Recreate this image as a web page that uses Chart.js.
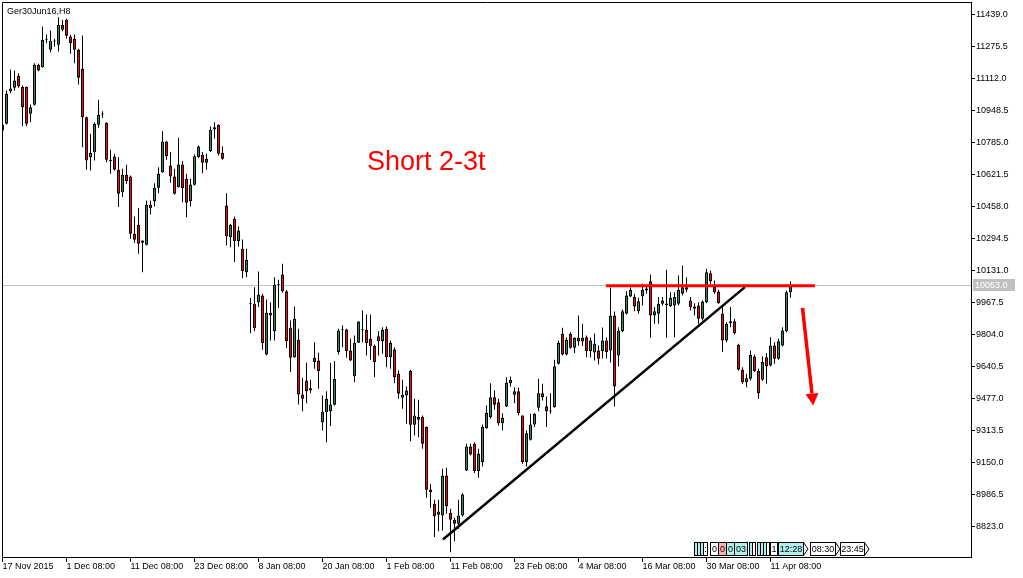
<!DOCTYPE html>
<html><head><meta charset="utf-8">
<script src="https://cdn.jsdelivr.net/npm/chart.js@4.4.1/dist/chart.umd.min.js"></script>
<style>html,body{margin:0;padding:0;background:#fff;overflow:hidden}canvas{display:block}</style>
</head><body>
<canvas id="c" width="1023" height="578"></canvas>
<script>
const symbolTitle = 'Ger30Jun16,H8';
const noteText = 'Short 2-3t';

const opens = [10846,10881,11047,11065,11126,11068,11068,10932,10978,11182,11170,11308,11259,11301,11284,11386,11412,11327,11315,11259,
11162,10914,10710,10736,10876,10928,10886,10697,10714,10646,10531,10620,10611,10319,10365,10273,10262,10467,10485,10554,
10633,10790,10668,10611,10557,10673,10600,10485,10569,10710,10722,10681,10741,10851,10876,10732,10463,10301,10395,10281,
10242,10122,9959,9961,9969,10003,9702,9901,9821,10056,10111,10025,9838,9688,9777,9498,9569,9518,9685,9671,
9356,9407,9412,9445,9714,9826,9830,9722,9591,9762,9826,9828,9782,9746,9795,9770,9833,9688,9728,9603,
9481,9492,9617,9343,9368,9382,9331,9012,8939,8883,8879,9084,8893,8857,8837,8879,9109,9232,9246,9106,
9152,9325,9382,9484,9458,9351,9436,9555,9496,9514,9390,9152,9266,9344,9430,9504,9438,9410,9433,9654,
9808,9702,9808,9736,9787,9768,9790,9719,9712,9722,9719,9773,9722,9901,9697,9821,9910,9998,9995,9923,
9998,10029,10076,9901,9910,9961,9962,9949,9952,9961,10012,10046,9978,9947,9952,9884,9969,10117,10049,10024,
9910,9773,9862,9872,9752,9624,9560,9578,9692,9617,9573,9688,9646,9748,9680,9748,9821,10020];
const highs = [10897,11051,11158,11153,11139,11076,11071,10979,11190,11187,11378,11337,11357,11315,11425,11412,11417,11335,11337,11264,
11332,10916,10830,10887,11003,10945,10889,10748,10727,10710,10651,10671,10616,10407,10451,10285,10489,10489,10577,10659,
10843,10792,10736,10651,10809,10690,10625,10600,10724,10770,10736,10727,10867,10889,10878,10765,10526,10370,10407,10356,
10290,10242,9990,10046,10126,10012,9983,9969,10097,10084,10165,10030,9876,9947,9833,9583,9660,9573,9765,9711,
9492,9514,9660,9668,9833,9850,9833,9782,9799,9872,9927,9906,9906,9753,9821,9841,9845,9773,9739,9620,
9573,9538,9624,9476,9471,9390,9334,9041,8960,8960,9118,9123,8914,8868,8960,8993,9246,9246,9254,9220,
9344,9441,9555,9518,9476,9402,9586,9590,9535,9532,9392,9314,9399,9402,9578,9552,9487,9504,9675,9773,
9838,9790,9816,9790,9901,9859,9799,9789,9809,9748,9840,9789,10044,9922,9841,9932,10025,10046,10012,9992,
10063,10054,10111,9944,9995,9995,10135,10020,10020,10106,10157,10097,9995,9964,9969,9978,10140,10131,10080,10033,
9952,9867,9944,9884,9757,9637,9603,9722,9702,9629,9692,9709,9790,9765,9782,9841,10029,10076];
const lows = [10831,10877,11037,11051,11065,10868,10868,10889,10974,11149,11167,11292,11246,11276,11250,11354,11315,11238,11190,11081,
10761,10646,10642,10693,10860,10911,10684,10625,10642,10455,10506,10574,10293,10271,10216,10122,10259,10417,10458,10526,
10630,10697,10579,10519,10555,10480,10403,10458,10565,10707,10628,10646,10736,10804,10719,10697,10259,10250,10174,10254,
10092,10097,9811,9821,9944,9726,9697,9773,9773,9939,10017,9734,9612,9685,9447,9412,9453,9504,9629,9527,
9314,9254,9336,9441,9702,9739,9685,9668,9560,9760,9765,9697,9675,9586,9697,9706,9637,9629,9555,9476,
9425,9348,9259,9288,9279,9220,8970,8919,8769,8799,8803,8888,8692,8748,8811,8874,9106,9186,9096,9072,
9130,9322,9373,9419,9339,9314,9433,9538,9453,9390,9144,9130,9263,9331,9412,9467,9331,9399,9430,9651,
9697,9697,9731,9709,9748,9745,9688,9686,9671,9651,9682,9682,9661,9436,9641,9816,9906,9995,9923,9910,
9952,10012,9787,9859,9859,9952,9787,9944,9790,9952,10003,10020,9927,9901,9859,9876,9964,10063,10012,9961,
9714,9765,9841,9804,9620,9552,9535,9569,9612,9476,9566,9552,9641,9654,9675,9743,9816,9992];
const closes = [10877,11034,11061,11102,11071,10965,10881,10965,11182,11153,11310,11311,11305,11304,11386,11361,11330,11292,11259,11116,
10914,10693,10732,10881,10927,10931,10697,10690,10646,10523,10620,10587,10319,10288,10268,10284,10467,10449,10554,10625,
10790,10715,10611,10523,10673,10552,10477,10570,10715,10765,10681,10702,10850,10863,10727,10702,10306,10365,10281,10335,
10128,10186,9962,9836,10009,9760,9915,9915,10058,10060,10025,9770,9685,9884,9498,9476,9514,9530,9663,9617,
9411,9476,9447,9578,9825,9830,9719,9671,9762,9870,9830,9760,9744,9663,9770,9828,9688,9762,9586,9501,
9496,9518,9343,9390,9382,9246,9011,8998,8876,8900,9084,8927,8857,8837,8879,8987,9232,9191,9106,9195,
9331,9404,9484,9445,9351,9379,9557,9573,9514,9402,9152,9300,9344,9399,9504,9484,9412,9412,9642,9762,
9702,9777,9736,9787,9768,9787,9719,9773,9758,9680,9773,9714,9901,9538,9825,9923,10003,10033,9947,9974,
10033,10039,9901,9923,9961,9978,9955,9992,9995,10033,10046,10033,9943,9935,9884,9973,10122,10076,10020,9964,
9773,9859,9872,9811,9624,9560,9581,9700,9617,9504,9663,9641,9748,9680,9770,9825,10020,10053];

const priceTicks = [11439.0,11275.5,11112.0,10948.5,10785.0,10621.5,10458.0,10294.5,10131.0,9967.5,9804.0,9640.5,9477.0,9313.5,9150.0,8986.5,8823.0];
const timeTickIndex = [0,16,32,48,64,80,96,112,128,144,160,176,192];
const timeTickLabels = ['17 Nov 2015','1 Dec 08:00','11 Dec 08:00','23 Dec 08:00','8 Jan 08:00','20 Jan 08:00','1 Feb 08:00','11 Feb 08:00','23 Feb 08:00','4 Mar 08:00','16 Mar 08:00','30 Mar 08:00','11 Apr 08:00'];
const currentPrice = 10053.0;
const resistanceLine = [[150.9, 10053], [203.1, 10053]];
const trendLine = [[110.1, 8757], [185.6, 10046]];
const arrowPath = [[200.0, 9940], [202.7, 9441]];
const noteAnchor = [91.1, 10645];

const FONT = "'Liberation Sans', Arial, sans-serif";
const UP = '#2e8b57', DOWN = '#ff0000';

const bodies = opens.map((o, i) => ({x: i, y: [o, closes[i]]}));
const wicks = lows.map((l, i) => ({x: i, y: [l, highs[i]]}));
const bodyColors = opens.map((o, i) => closes[i] >= o ? UP : DOWN);

function xy(chart, p) {
  return [chart.scales.x.getPixelForValue(p[0]), chart.scales.y.getPixelForValue(p[1])];
}

const overlay = {
  id: 'overlay',
  beforeDatasetsDraw(chart) {
    const {ctx, chartArea: a, scales: {y}} = chart;
    ctx.save();
    const py = Math.floor(y.getPixelForValue(currentPrice)) + 0.5;
    ctx.strokeStyle = '#c0c0c0'; ctx.lineWidth = 1;
    ctx.beginPath(); ctx.moveTo(a.left, py); ctx.lineTo(a.right, py); ctx.stroke();
    ctx.restore();
  },
  afterDatasetsDraw(chart) {
    const {ctx} = chart;
    ctx.save();
    let p0 = xy(chart, trendLine[0]), p1 = xy(chart, trendLine[1]);
    ctx.strokeStyle = '#000'; ctx.lineWidth = 2.5;
    ctx.beginPath(); ctx.moveTo(p0[0], p0[1]); ctx.lineTo(p1[0], p1[1]); ctx.stroke();
    p0 = xy(chart, resistanceLine[0]); p1 = xy(chart, resistanceLine[1]);
    ctx.strokeStyle = '#ff0000'; ctx.lineWidth = 3;
    ctx.beginPath(); ctx.moveTo(p0[0], p0[1]); ctx.lineTo(p1[0], p1[1]); ctx.stroke();
    p0 = xy(chart, arrowPath[0]); p1 = xy(chart, arrowPath[1]);
    const dx = p1[0]-p0[0], dy = p1[1]-p0[1], len = Math.hypot(dx, dy);
    const ux = dx/len, uy = dy/len, hl = 12, hw = 6.5;
    const bx = p1[0]-ux*hl, by = p1[1]-uy*hl;
    ctx.lineWidth = 3.5;
    ctx.beginPath(); ctx.moveTo(p0[0], p0[1]); ctx.lineTo(bx, by); ctx.stroke();
    ctx.fillStyle = '#ff0000';
    ctx.beginPath(); ctx.moveTo(p1[0], p1[1]);
    ctx.lineTo(bx - uy*hw, by + ux*hw); ctx.lineTo(bx + uy*hw, by - ux*hw); ctx.closePath(); ctx.fill();
    const np = xy(chart, noteAnchor);
    ctx.font = '27px ' + FONT; ctx.textAlign = 'left'; ctx.textBaseline = 'alphabetic';
    ctx.fillText(noteText, np[0], np[1]);
    ctx.restore();
  },
  afterDraw(chart) {
    const {ctx, chartArea: a, scales: {y}} = chart;
    ctx.save();
    ctx.strokeStyle = '#000'; ctx.lineWidth = 1;
    ctx.beginPath();
    ctx.moveTo(a.left + 0.5, a.bottom); ctx.lineTo(a.left + 0.5, a.top + 0.5); ctx.lineTo(a.right + 1, a.top + 0.5);
    ctx.stroke();
    ctx.fillStyle = '#000'; ctx.font = '9px ' + FONT; ctx.textBaseline = 'alphabetic'; ctx.textAlign = 'left';
    ctx.fillText(symbolTitle, 7, 13.5);
    const py = Math.floor(y.getPixelForValue(currentPrice));
    ctx.fillStyle = '#c0c0c0';
    ctx.fillRect(a.right + 2, py - 6, 42, 12);
    ctx.fillStyle = '#fff'; ctx.textBaseline = 'middle';
    ctx.fillText(currentPrice.toFixed(1), a.right + 4, py + 0.5);
    const items = [
      [694,3,'#b0f0f0',''],[697,3,'#b0f0f0',''],[700,3,'#b0f0f0',''],[703,4,'#ffffff',':'],
      [710,8,'#ffffff','0'],[718,8,'#ffb0b0','0'],[726,8,'#b0f0f0','0'],[734,13,'#b0f0f0','03'],
      [749,3,'#b0f0f0',''],[752,3,'#ffffff',''],[757,3,'#b0f0f0',''],[760,3,'#b0f0f0',''],[763,3,'#b0f0f0',''],[766,3,'#ffffff',''],
      [770,7,'#ffffff','1'],[778,25,'#b0f0f0','12:28'],[810,25,'#ffffff','08:30'],[840,24,'#ffffff','23:45']
    ];
    const wy = 542, wh = 13;
    ctx.textAlign = 'center'; ctx.textBaseline = 'middle'; ctx.font = '9px ' + FONT;
    items.forEach(([x, w, c, t]) => {
      ctx.fillStyle = c; ctx.fillRect(x, wy, w, wh);
      ctx.strokeStyle = '#000'; ctx.strokeRect(x + 0.5, wy + 0.5, w, wh);
      if (t) { ctx.fillStyle = '#000'; ctx.fillText(t, x + w/2 + 0.5, wy + wh/2 + 1); }
    });
    [[803,wy],[835,wy],[864,wy]].forEach(([x, yy]) => {
      ctx.beginPath(); ctx.moveTo(x + 0.5, yy + 0.5); ctx.lineTo(x + 5, yy + wh/2 + 0.5); ctx.lineTo(x + 0.5, yy + wh + 0.5); ctx.stroke();
    });
    ctx.restore();
  }
};

new Chart(document.getElementById('c'), {
  type: 'bar',
  data: {
    datasets: [
      {data: bodies, backgroundColor: bodyColors, borderColor: '#000', borderWidth: 1, borderSkipped: false,
       barThickness: 3, grouped: false, minBarLength: 1, inflateAmount: 0, order: 0},
      {data: wicks, backgroundColor: '#000', borderWidth: 0, barThickness: 1, grouped: false, inflateAmount: 0, order: 1}
    ]
  },
  options: {
    responsive: false, animation: false, devicePixelRatio: 1,
    layout: {padding: {left: 2, top: 2, right: 0, bottom: 0}},
    plugins: {legend: {display: false}, tooltip: {enabled: false}, title: {display: false}},
    events: [],
    scales: {
      x: {
        type: 'linear', min: -0.125, max: 242.125, offset: false,
        grid: {display: true, drawOnChartArea: false, drawTicks: true, tickLength: 5, color: '#000', offset: false},
        border: {display: true, color: '#000', width: 1},
        afterBuildTicks: s => { s.ticks = timeTickIndex.map(v => ({value: v})); },
        afterFit: s => { s.height = 21; s.paddingLeft = 0; s.paddingRight = 0; },
        ticks: {autoSkip: false, maxRotation: 0, minRotation: 0, align: 'start', padding: -1, color: '#000',
          font: {family: FONT, size: 9},
          callback: v => { const k = timeTickIndex.indexOf(v); return k >= 0 ? timeTickLabels[k] : ''; }}
      },
      y: {
        position: 'right', min: 8667.2, max: 11502.9,
        grid: {display: true, drawOnChartArea: false, drawTicks: true, tickLength: 4, color: '#000'},
        border: {display: true, color: '#000', width: 1},
        afterBuildTicks: s => { s.ticks = priceTicks.map(v => ({value: v})); },
        afterFit: s => { s.width = 52; s.paddingTop = 0; s.paddingBottom = 0; },
        ticks: {autoSkip: false, padding: 1, color: '#000', font: {family: FONT, size: 9},
          callback: v => Number(v).toFixed(1)}
      }
    }
  },
  plugins: [overlay]
});
</script>
</body></html>
